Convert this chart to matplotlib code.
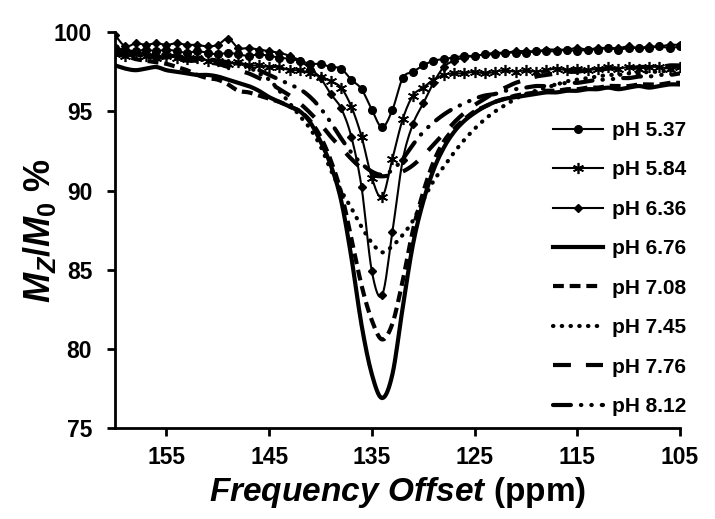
import matplotlib
matplotlib.use("Agg")
import matplotlib.pyplot as plt
import numpy as np

plt.rcParams['font.family'] = ['Liberation Sans', 'DejaVu Sans']
plt.rcParams['mathtext.fontset'] = 'custom'
plt.rcParams['mathtext.it'] = 'Liberation Sans:italic:bold'
plt.rcParams['mathtext.rm'] = 'Liberation Sans:bold'
plt.rcParams['mathtext.bf'] = 'Liberation Sans:bold'

# frequency offsets (ppm), sampled every 1 ppm from 160 down to 105
freq = np.arange(160, 104, -1)

ph_537 = [99.0, 98.9, 98.8, 98.9, 98.8, 98.9, 98.8, 98.7, 98.8, 98.7,
          98.6, 98.7, 98.6, 98.5, 98.6, 98.5, 98.4, 98.3, 98.2, 98.0,
          98.0, 97.8, 97.7, 97.0, 96.4, 95.1, 94.0, 95.1, 97.1, 97.5,
          97.9, 98.2, 98.3, 98.4, 98.5, 98.5, 98.6, 98.6, 98.7, 98.7,
          98.7, 98.8, 98.8, 98.8, 98.9, 98.8, 98.9, 98.9, 99.0, 98.9,
          99.0, 99.0, 99.0, 99.1, 99.0, 99.1]
ph_584 = [98.6, 98.5, 98.6, 98.5, 98.4, 98.5, 98.4, 98.3, 98.4, 98.2,
          98.2, 98.0, 98.1, 97.9, 97.9, 97.8, 97.8, 97.6, 97.6, 97.4,
          97.2, 96.9, 96.5, 95.3, 93.4, 90.8, 89.6, 92.0, 94.5, 96.0,
          96.5, 97.0, 97.3, 97.4, 97.4, 97.5, 97.4, 97.5, 97.6, 97.5,
          97.6, 97.5, 97.6, 97.7, 97.6, 97.7, 97.6, 97.7, 97.8, 97.7,
          97.8, 97.7, 97.8, 97.8, 97.7, 97.8]
ph_636 = [99.8, 99.1, 99.3, 99.2, 99.3, 99.2, 99.3, 99.2, 99.2, 99.1,
          99.2, 99.6, 99.0, 99.0, 98.9, 98.8, 98.7, 98.5, 98.2, 97.7,
          97.1, 96.1, 95.2, 93.4, 90.2, 84.9, 83.4, 87.4, 91.9, 94.2,
          95.5, 96.8, 97.8, 98.2, 98.4, 98.5, 98.6, 98.7, 98.7, 98.8,
          98.8, 98.8, 98.9, 98.9, 98.9, 99.0, 98.9, 99.0, 99.0, 99.0,
          99.1, 99.0, 99.1, 99.1, 99.2, 99.2]
ph_676 = [97.9, 97.7, 97.6, 97.7, 97.8, 97.6, 97.5, 97.4, 97.3, 97.3,
          97.2, 97.0, 96.8, 96.6, 96.3, 95.9, 95.6, 95.3, 95.0, 94.3,
          93.1, 91.6, 89.4, 85.8, 81.5, 78.4, 76.9, 78.4, 82.6, 86.6,
          89.3, 91.3, 92.7, 93.7, 94.4, 94.9, 95.3, 95.6, 95.8, 95.9,
          96.0, 96.1, 96.2, 96.2, 96.3, 96.3, 96.4, 96.4, 96.5, 96.4,
          96.5, 96.6, 96.5, 96.6, 96.7, 96.7]
ph_708 = [98.6, 98.5, 98.3, 98.2, 98.1, 98.0, 97.8, 97.6, 97.3, 97.1,
          97.0, 96.7, 96.3, 96.2, 96.0, 95.8, 95.6, 95.3, 95.0, 94.4,
          93.4, 91.9, 89.9, 87.0, 84.0, 81.8, 80.6, 81.6, 84.3, 87.5,
          89.9, 91.8, 93.1, 93.9, 94.5, 95.0, 95.3, 95.6, 95.8, 96.0,
          96.1, 96.2, 96.3, 96.3, 96.4, 96.4, 96.5, 96.5, 96.6, 96.6,
          96.6, 96.7, 96.7, 96.7, 96.8, 96.8]
ph_745 = [98.7, 98.6, 98.6, 98.5, 98.5, 98.4, 98.4, 98.3, 98.3, 98.2,
          98.2, 98.1, 98.0, 97.8, 97.4, 97.0, 96.3, 95.5, 94.7, 93.9,
          92.8, 91.3, 90.0, 88.9, 87.7, 86.7, 86.1, 86.5, 87.2, 88.1,
          89.4, 90.6, 91.5, 92.4, 93.2, 93.9, 94.5, 95.0, 95.4, 95.8,
          96.1, 96.3, 96.5, 96.7, 96.9, 97.0, 97.1, 97.2, 97.3, 97.3,
          97.4, 97.4, 97.5, 97.5, 97.6, 97.6]
ph_776 = [98.6, 98.6, 98.5, 98.5, 98.4, 98.4, 98.3, 98.2, 98.2, 98.1,
          98.0, 97.8, 97.6, 97.4, 97.1, 96.8, 96.4, 96.0, 95.5, 94.9,
          94.2, 93.4, 92.7, 92.0, 91.4, 91.0, 90.9, 91.0, 91.2, 91.6,
          92.2, 92.9, 93.6, 94.3, 94.9, 95.4, 95.8, 96.2, 96.5, 96.8,
          97.0, 97.2, 97.3, 97.4, 97.5, 97.5, 97.6, 97.6, 97.7, 97.7,
          97.7, 97.8, 97.8, 97.8, 97.9, 97.9]
ph_812 = [98.8, 98.7, 98.7, 98.6, 98.6, 98.5, 98.5, 98.4, 98.4, 98.3,
          98.2, 98.1, 98.0, 97.8, 97.6, 97.3, 97.0, 96.7, 96.4, 95.9,
          95.2, 94.3, 93.3, 92.4, 91.7, 91.2, 91.0, 91.3, 92.0, 92.9,
          93.7, 94.3, 94.8, 95.2, 95.5, 95.8, 96.0, 96.1, 96.3, 96.4,
          96.5, 96.6, 96.6, 96.7, 96.8, 96.8, 96.9, 97.0, 97.0, 97.1,
          97.1, 97.2, 97.2, 97.3, 97.3, 97.4]

labels = ["pH 5.37", "pH 5.84", "pH 6.36", "pH 6.76",
          "pH 7.08", "pH 7.45", "pH 7.76", "pH 8.12"]
series = [ph_537, ph_584, ph_636, ph_676, ph_708, ph_745, ph_776, ph_812]

line_styles = [
    dict(lw=1.5, ls='-'),
    dict(lw=1.5, ls='-'),
    dict(lw=1.5, ls='-'),
    dict(lw=3, ls='-'),
    dict(lw=3, ls=(0, (2.6, 1.4))),
    dict(lw=3, ls=(0, (0.1, 2.0)), dash_capstyle='round'),
    dict(lw=3, ls=(0, (4.3, 3.6))),
    dict(lw=3, ls=(0, (4.3, 2.4, 0.1, 2.4, 0.1, 2.4)), dash_capstyle='round'),
]
markers = [
    dict(marker='o', ms=5.5),
    dict(marker=(6, 2, 0), ms=8, mew=1.2),
    dict(marker='D', ms=4.5),
    None, None, None, None, None,
]


def smooth(x, y, n=8):
    # catmull-rom curve through the points, like excel's smoothed lines
    x = np.asarray(x, float)
    y = np.asarray(y, float)
    px = np.concatenate([[2 * x[0] - x[1]], x, [2 * x[-1] - x[-2]]])
    py = np.concatenate([[2 * y[0] - y[1]], y, [2 * y[-1] - y[-2]]])
    t = np.linspace(0, 1, n, endpoint=False)
    xs, ys = [], []
    for i in range(1, len(px) - 2):
        for p, out in ((px, xs), (py, ys)):
            p0, p1, p2, p3 = p[i - 1], p[i], p[i + 1], p[i + 2]
            out.extend(0.5 * (2 * p1 + (-p0 + p2) * t
                              + (2 * p0 - 5 * p1 + 4 * p2 - p3) * t ** 2
                              + (-p0 + 3 * p1 - 3 * p2 + p3) * t ** 3))
    xs.append(x[-1])
    ys.append(y[-1])
    return np.array(xs), np.array(ys)


fig = plt.figure(figsize=(7.15, 5.19), dpi=100)
ax = fig.add_axes([0.161, 0.175, 0.790, 0.763])

handles = []
for vals, lab, ls, mk in zip(series, labels, line_styles, markers):
    sx, sy = smooth(freq, vals)
    ax.plot(sx, sy, color='black', **ls)
    if mk is not None:
        ax.plot(freq, vals, color='black', ls='none', **mk)
        h, = ax.plot([], [], color='black', label=lab, **ls, **mk)
    else:
        h, = ax.plot([], [], color='black', label=lab, **ls)
    handles.append(h)

ax.set_xlim(160, 105)
ax.set_ylim(75, 100)
ax.set_xticks([155, 145, 135, 125, 115, 105])
ax.set_yticks([75, 80, 85, 90, 95, 100])

for s in ['top', 'right']:
    ax.spines[s].set_visible(False)
for s in ['left', 'bottom']:
    ax.spines[s].set_linewidth(2)
ax.tick_params(direction='out', length=6, width=2, labelsize=16.5)
ax.tick_params(axis='x', pad=7)
ax.tick_params(axis='y', pad=10.5)
for t in ax.get_xticklabels() + ax.get_yticklabels():
    t.set_fontweight('bold')

ax.set_ylabel(r'$\mathit{M_Z/M_0}$ %', fontsize=26, fontweight='bold')
ax.yaxis.set_label_coords(-0.101, 0.5)
ax.set_xlabel(r'$\mathit{Frequency\ Offset}$ (ppm)', fontsize=24, fontweight='bold')
ax.xaxis.set_label_coords(0.5, -0.118)

fig.legend(handles=handles, loc='center left', bbox_to_anchor=(0.773, 0.4827),
           frameon=False, prop={'weight': 'bold', 'size': 15}, handlelength=2.4,
           handletextpad=0.43, labelspacing=0.98, borderpad=0, borderaxespad=0)

fig.savefig('out.png', dpi=100)
